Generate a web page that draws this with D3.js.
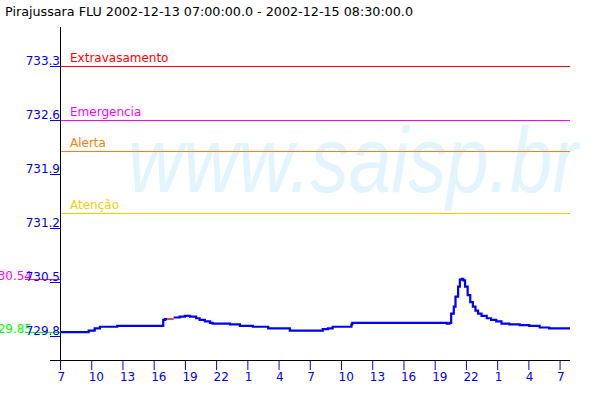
<!DOCTYPE html>
<html><head><meta charset="utf-8">
<script src="https://cdn.jsdelivr.net/npm/d3@7"></script>
<style>
html,body{margin:0;padding:0;background:#fff;}
svg{display:block;font-family:"DejaVu Sans",sans-serif;}
</style></head>
<body>
<svg id="c" width="600" height="400"></svg>
<script>
// ---- data ----
const title = "Pirajussara FLU 2002-12-13 07:00:00.0 - 2002-12-15 08:30:00.0";
const watermark = "www.saisp.br";
const startTime = "2002-12-13 07:00";
const endTime = "2002-12-15 08:00";
const yTickValues = [729.8, 730.5, 731.2, 731.9, 732.6, 733.3];
const yTickLabels = ["729.8", "730.5", "731.2", "731.9", "732.6", "733.3"];
const xTickHours = [7,10,13,16,19,22,1,4,7,10,13,16,19,22,1,4,7];

const thresholdNames = ["Extravasamento", "Emergencia", "Alerta", "Atenção"];
const thresholdValues = [733.3, 732.6, 732.2, 731.4];

const maxLevel = 730.54;
const minLevel = 729.85;

const times = [
 "2002-12-13 07:00","2002-12-13 09:45","2002-12-13 10:20","2002-12-13 10:50","2002-12-13 12:30",
 "2002-12-13 16:55","2002-12-13 17:05","2002-12-13 17:20","2002-12-13 17:21",
 "2002-12-13 17:55","2002-12-13 18:30","2002-12-13 19:00","2002-12-13 19:30","2002-12-13 20:05",
 "2002-12-13 20:25","2002-12-13 20:55","2002-12-13 21:25","2002-12-13 21:40","2002-12-13 23:20",
 "2002-12-14 00:17","2002-12-14 01:32","2002-12-14 03:00","2002-12-14 05:05","2002-12-14 08:15",
 "2002-12-14 08:45","2002-12-14 09:12","2002-12-14 11:00","2002-12-14 11:05","2002-12-14 20:10",
 "2002-12-14 20:25","2002-12-14 20:35","2002-12-14 20:50","2002-12-14 21:00","2002-12-14 21:15",
 "2002-12-14 21:25","2002-12-14 21:35","2002-12-14 21:45","2002-12-14 21:55","2002-12-14 22:10",
 "2002-12-14 22:25","2002-12-14 22:40","2002-12-14 22:55","2002-12-14 23:10","2002-12-14 23:30",
 "2002-12-15 00:00","2002-12-15 00:25","2002-12-15 00:55","2002-12-15 01:25","2002-12-15 02:10",
 "2002-12-15 03:10","2002-12-15 04:05","2002-12-15 05:05","2002-12-15 06:00","2002-12-15 08:00"
];
const levels = [
 729.85, 729.87, 729.90, 729.92, 729.93,
 730.01, 730.02, 730.02, null,
 730.04, 730.05, 730.06, 730.05, 730.03,
 730.01, 729.99, 729.97, 729.96, 729.95,
 729.93, 729.92, 729.90, 729.87, 729.89,
 729.90, 729.92, 729.95, 729.97, 729.96,
 729.97, 730.09, 730.18, 730.31, 730.44,
 730.53, 730.54, 730.52, 730.44, 730.33,
 730.24, 730.18, 730.13, 730.09, 730.06,
 730.03, 730.01, 729.99, 729.96, 729.95,
 729.94, 729.93, 729.91, 729.90, 729.90
];
// interpolated (missing) stretch drawn in red
const gapTimes = ["2002-12-13 17:20", "2002-12-13 17:55"];
const gapLevels = [730.02, 730.02];

// ---- styles ----
const thresholdColors = ["#ff0000", "#ff00ff", "#ff8000", "#f5d000"];
const BLUE = "#0000ff";

const parse = d3.utcParse("%Y-%m-%d %H:%M");
const svg = d3.select("#c");

const x = d3.scaleUtc().domain([parse(startTime), parse(endTime)]).range([60, 570]);
const y = d3.scaleLinear().domain([729.8, 733.3]).range([336, 66]);

// title
svg.append("text").attr("x", 5).attr("y", 16).attr("font-size", 13)
  .attr("textLength", 408).attr("lengthAdjust", "spacingAndGlyphs")
  .attr("fill", "#000").text(title);

// watermark
svg.append("text").attr("x", 128).attr("y", 192).attr("font-size", 92)
  .attr("font-family", "Liberation Sans, sans-serif").attr("font-style", "italic")
  .attr("textLength", 450).attr("lengthAdjust", "spacingAndGlyphs")
  .attr("fill", "#e2f4fd").text(watermark);

// thresholds
thresholdValues.forEach((v, i) => {
  svg.append("line").attr("x1", 60).attr("x2", 570)
    .attr("y1", Math.round(y(v)) + 0.5).attr("y2", Math.round(y(v)) + 0.5)
    .attr("stroke", thresholdColors[i]).attr("stroke-width", 1);
  svg.append("text").attr("x", 70).attr("y", Math.round(y(v)) - 4)
    .attr("font-size", 12).attr("fill", thresholdColors[i]).text(thresholdNames[i]);
});

// max / min markers
[[maxLevel, "#ff00ff"], [minLevel, "#00ff00"]].forEach(([v, c]) => {
  const yy = Math.round(y(v)) + 0.5;
  svg.append("line").attr("x1", 25).attr("x2", 60).attr("y1", yy).attr("y2", yy)
    .attr("stroke", c).attr("stroke-width", 1);
  svg.append("text").attr("x", 32).attr("y", yy).attr("text-anchor", "end")
    .attr("font-size", 12).attr("fill", c).text(v.toFixed(2));
});

// y axis
const yAxis = d3.axisLeft(y).tickValues(yTickValues).tickSize(10)
  .tickFormat((d, i) => yTickLabels[i]);
const gy = svg.append("g").attr("transform", "translate(60,0)").call(yAxis);
gy.select(".domain").remove();
gy.selectAll(".tick line").attr("stroke", BLUE);
gy.selectAll(".tick text").attr("x", 0).attr("dy", "-0.1em").attr("fill", BLUE)
  .attr("font-size", 12).attr("font-family", "DejaVu Sans, sans-serif");

// x axis
const xTicks = xTickHours.map((h, i) => d3.utcHour.offset(parse(startTime), i * 3));
const xAxis = d3.axisBottom(x).tickValues(xTicks).tickSize(10)
  .tickFormat((d, i) => String(xTickHours[i]));
const gx = svg.append("g").attr("transform", "translate(0,360)").call(xAxis);
gx.select(".domain").remove();
gx.selectAll(".tick line").attr("stroke", BLUE);
gx.selectAll(".tick text").attr("x", -3).attr("y", 21).attr("dy", 0)
  .attr("text-anchor", "start").attr("fill", BLUE)
  .attr("font-size", 12).attr("font-family", "DejaVu Sans, sans-serif");

// axis lines
svg.append("line").attr("x1", 60.5).attr("x2", 60.5).attr("y1", 27).attr("y2", 360)
  .attr("stroke", "#000");
svg.append("line").attr("x1", 50).attr("x2", 570).attr("y1", 360.5).attr("y2", 360.5)
  .attr("stroke", "#000");

// series
const pts = times.map((t, i) => ({t: parse(t), v: levels[i]}));
const line = d3.line().defined(d => d.v !== null)
  .x(d => x(d.t)).y(d => y(d.v)).curve(d3.curveStepAfter);
svg.append("path").datum(pts).attr("d", line).attr("fill", "none")
  .attr("stroke", BLUE).attr("stroke-width", 2.2);

const gapPts = gapTimes.map((t, i) => ({t: parse(t), v: gapLevels[i]}));
svg.append("path").datum(gapPts).attr("d", d3.line().x(d => x(d.t)).y(d => y(d.v)))
  .attr("fill", "none").attr("stroke", "#ff0000").attr("stroke-width", 1.5);
</script>
</body></html>
